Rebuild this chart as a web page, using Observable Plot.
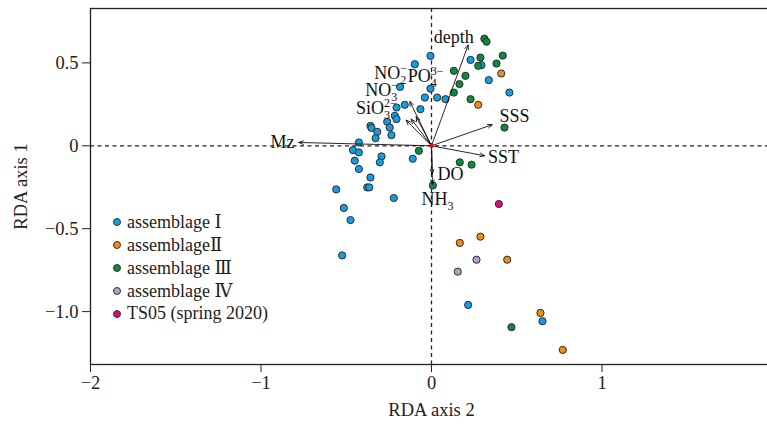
<!DOCTYPE html>
<html>
<head>
<meta charset="utf-8">
<script src="https://cdn.jsdelivr.net/npm/d3@7"></script>
<script src="https://cdn.jsdelivr.net/npm/@observablehq/plot@0.6"></script>
<style>
  html, body { margin: 0; padding: 0; background: #fff; overflow: hidden; }
  #wrap { position: relative; width: 790px; height: 425px; }
  #legend { position: absolute; left: 113px; top: 210px; font-family: "Liberation Serif", "DejaVu Serif", serif; font-size: 18px; color: #222; }
  #legend .row { display: flex; align-items: center; height: 23px; white-space: nowrap; }
  #legend .sw { width: 6px; height: 6px; border-radius: 50%; border: 1px solid #333; margin-right: 6px; }
</style>
</head>
<body>
<div id="wrap"></div>
<script>
// ---------- data ----------
const groups = ["assemblage Ⅰ", "assemblageⅡ", "assemblage Ⅲ", "assemblage Ⅳ", "TS05 (spring 2020)"];
const groupColors = ["#139de2", "#f28c12", "#0d8a3d", "#b99cc8", "#e2087c"];

const asm1X = [-0.006, -0.098, 0.229, 0.293, 0.336, -0.006, 0.457, -0.039, 0.033, 0.082, -0.184, -0.157, -0.065, -0.205, -0.215, -0.205, -0.260, -0.245, -0.235, -0.358, -0.352, -0.318, -0.328, -0.426, -0.461, -0.426, -0.293, -0.303, -0.450, -0.110, -0.426, -0.358, -0.377, -0.365, -0.559, -0.221, -0.514, -0.475, -0.524, 0.215, 0.651];
const asm1Y = [0.542, 0.492, 0.518, 0.486, 0.396, 0.345, 0.321, 0.291, 0.291, 0.281, 0.355, 0.247, 0.221, 0.231, 0.181, 0.161, 0.145, 0.110, 0.064, 0.120, 0.108, 0.084, 0.046, 0.020, -0.026, -0.040, -0.064, -0.100, -0.090, -0.078, -0.140, -0.191, -0.251, -0.251, -0.263, -0.315, -0.375, -0.448, -0.661, -0.960, -1.058];

const asm2X = [0.409, 0.274, 0.166, 0.287, 0.444, 0.639, 0.770];
const asm2Y = [0.436, 0.247, -0.586, -0.548, -0.687, -1.008, -1.231];

const asm3X = [0.310, 0.323, 0.287, 0.418, 0.274, 0.381, 0.131, 0.199, 0.164, 0.131, 0.229, 0.428, -0.074, 0.008, 0.166, 0.235, 0.469];
const asm3Y = [0.646, 0.628, 0.532, 0.544, 0.482, 0.496, 0.452, 0.422, 0.372, 0.321, 0.281, 0.110, -0.030, -0.239, -0.100, -0.114, -1.094];

const asm4X = [0.264, 0.154];
const asm4Y = [-0.687, -0.759];

const ts05X = [0.395];
const ts05Y = [-0.351];

// environmental vectors (tips)
const varNames = ["depth", "SSS", "SST", "Mz", "DO", "NH3", "NO2", "PO4", "NO3", "SiO3"];
const varX = [0.215, 0.356, 0.311, -0.778, 0.004, 0.006, -0.127, -0.090, -0.119, -0.149];
const varY = [0.608, 0.127, -0.060, 0.020, -0.170, -0.232, 0.267, 0.175, 0.161, 0.155];

// vector labels: base text, subscript, superscript, and label anchor
const labelBase = ["depth", "SSS", "SST", "Mz", "DO", "NH", "NO", "PO", "NO", "SiO"];
const labelSub = ["", "", "", "", "", "3", "2", "4", "3", "3"];
const labelSup = ["", "", "", "", "", "", "−", "3−", "−", "2−"];
const labelX = [0.130, 0.487, 0.422, -0.874, 0.111, 0.035, -0.240, -0.035, -0.293, -0.323];
const labelY = [0.654, 0.177, -0.070, 0.020, -0.173, -0.323, 0.435, 0.417, 0.333, 0.224];

const xTicks = [-2, -1, 0, 1, 2];
const yTicks = [-1, -0.5, 0, 0.5];
const origin = [{x: 0, y: 0}];

// ---------- build tables ----------
const seriesX = [asm1X, asm2X, asm3X, asm4X, ts05X];
const seriesY = [asm1Y, asm2Y, asm3Y, asm4Y, ts05Y];
const points = [];
seriesX.forEach((xs, g) => xs.forEach((x, i) => points.push({group: groups[g], x, y: seriesY[g][i]})));
const vectors = varNames.map((n, i) => ({name: n, x: varX[i], y: varY[i]}));
const labels = labelBase.map((b, i) => ({base: b, sub: labelSub[i], sup: labelSup[i], x: labelX[i], y: labelY[i]}));

const font = "'Liberation Serif', 'DejaVu Serif', serif";

const chart = Plot.plot({
  width: 790,
  height: 425,
  marginLeft: 90,
  marginRight: 18,
  marginTop: 8,
  marginBottom: 61,
  style: {fontFamily: font, fontSize: "18px", maxWidth: "none", overflow: "visible", color: "#222", background: "white"},
  x: {domain: [-2, 2]},
  y: {domain: [-1.319, 0.828]},
  color: {domain: groups, range: groupColors},
  marks: [
    Plot.ruleX([0], {stroke: "#222", strokeWidth: 1.3, strokeDasharray: "4,3.5"}),
    Plot.ruleY([0], {stroke: "#222", strokeWidth: 1.3, strokeDasharray: "4,3.5"}),
    Plot.frame({stroke: "#222", strokeWidth: 1.3}),
    Plot.axisX({ticks: xTicks, tickFormat: d3.format("d"), tickSize: 8, tickPadding: 3, label: "RDA axis 2", labelAnchor: "center", labelOffset: 51, labelArrow: "none", fontSize: 18.5}),
    Plot.axisY({ticks: yTicks, tickFormat: d => d === 0 ? "0" : d3.format(".1f")(d), tickSize: 8, tickPadding: 4, label: "RDA axis 1", labelAnchor: "center", labelOffset: 77, labelArrow: "none", fontSize: 18.5}),
    Plot.dot(points, {x: "x", y: "y", fill: "group", stroke: "#2b2b2b", strokeWidth: 1, r: 3.6}),
    Plot.arrow(vectors, {x1: d => 0, y1: d => 0, x2: "x", y2: "y", stroke: "#111", strokeWidth: 0.9, headLength: 8, headAngle: 45}),
    Plot.dot(origin, {x: "x", y: "y", fill: "#e00", r: 2.2}),
    Plot.text(labels, {x: "x", y: "y", text: "base", fill: "#111", fontSize: 18, fontFamily: font})
  ]
});

// add stacked sub/superscripts to the vector labels
d3.select(chart).selectAll('g[aria-label="text"] text').each(function(d, i) {
  const L = labels[i];
  if (!L || (!L.sub && !L.sup)) return;
  const t = d3.select(this);
  t.text(L.base);
  let subW = 0;
  if (L.sub) {
    t.append("tspan").attr("font-size", 12).attr("dy", 5).text(L.sub);
    subW = L.sub.length * 6;
  }
  if (L.sup) {
    t.append("tspan").attr("font-size", 12).attr("dx", -subW).attr("dy", L.sub ? -12 : -7).text(L.sup);
  }
});

const wrap = document.getElementById("wrap");
wrap.appendChild(chart);

// legend overlay
const legend = document.createElement("div");
legend.id = "legend";
groups.forEach((g, i) => {
  const row = document.createElement("div");
  row.className = "row";
  const sw = document.createElement("span");
  sw.className = "sw";
  sw.style.background = groupColors[i];
  const tx = document.createElement("span");
  tx.textContent = g;
  row.appendChild(sw);
  row.appendChild(tx);
  legend.appendChild(row);
});
wrap.appendChild(legend);
</script>
</body>
</html>
